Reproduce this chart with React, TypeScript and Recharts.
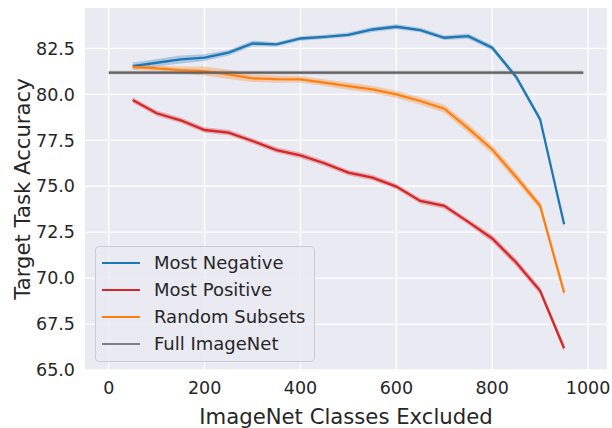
import React from 'react';
import { ComposedChart, Line, Area, XAxis, YAxis, CartesianGrid } from 'recharts';

// ---- data ----
const classesExcluded = [50, 100, 150, 200, 250, 300, 350, 400, 450, 500, 550, 600, 650, 700, 750, 800, 850, 900, 950];
const mostNegative = [81.54, 81.72, 81.9, 82.0, 82.27, 82.77, 82.72, 83.04, 83.13, 83.24, 83.53, 83.68, 83.5, 83.08, 83.17, 82.54, 80.95, 78.64, 72.93];
const mostNegativeCI = [0.2, 0.2, 0.22, 0.18, 0.15, 0.15, 0.12, 0.12, 0.12, 0.12, 0.14, 0.14, 0.12, 0.12, 0.14, 0.15, 0.15, 0.15, 0.15];
const mostPositive = [79.69, 78.97, 78.59, 78.06, 77.92, 77.46, 76.97, 76.68, 76.25, 75.74, 75.47, 74.98, 74.2, 73.93, 73.06, 72.16, 70.85, 69.31, 66.18];
const mostPositiveCI = [0.15, 0.15, 0.15, 0.15, 0.15, 0.15, 0.15, 0.15, 0.15, 0.15, 0.15, 0.15, 0.15, 0.15, 0.15, 0.2, 0.2, 0.2, 0.2];
const randomSubsets = [81.5, 81.41, 81.32, 81.27, 81.09, 80.87, 80.83, 80.82, 80.64, 80.45, 80.27, 80.0, 79.64, 79.22, 78.15, 77.0, 75.5, 73.93, 69.22];
const randomSubsetsCI = [0.15, 0.15, 0.2, 0.25, 0.25, 0.2, 0.2, 0.18, 0.18, 0.2, 0.2, 0.2, 0.2, 0.22, 0.25, 0.25, 0.25, 0.2, 0.2];
const fullImageNetX = [0, 990];
const fullImageNet = [81.18, 81.18];
const fullImageNetCI = [0.1, 0.1];

const xTicks = [0, 200, 400, 600, 800, 1000];
const yTicks = [65, 67.5, 70, 72.5, 75, 77.5, 80, 82.5];

const seriesMeta = [
  { key: 'neg', name: 'Most Negative', color: '#1f77b4' },
  { key: 'pos', name: 'Most Positive', color: '#d62728' },
  { key: 'rand', name: 'Random Subsets', color: '#ff7f0e' },
  { key: 'full', name: 'Full ImageNet', color: '#7f7f7f' },
];

type Row = { x: number; [k: string]: any };

const buildRows = (): Row[] => {
  const m = new Map<number, Row>();
  const get = (x: number) => {
    if (!m.has(x)) m.set(x, { x });
    return m.get(x)!;
  };
  classesExcluded.forEach((x, i) => {
    const r = get(x);
    r.neg = mostNegative[i];
    r.negBand = [mostNegative[i] - mostNegativeCI[i], mostNegative[i] + mostNegativeCI[i]];
    r.pos = mostPositive[i];
    r.posBand = [mostPositive[i] - mostPositiveCI[i], mostPositive[i] + mostPositiveCI[i]];
    r.rand = randomSubsets[i];
    r.randBand = [randomSubsets[i] - randomSubsetsCI[i], randomSubsets[i] + randomSubsetsCI[i]];
  });
  fullImageNetX.forEach((x, i) => {
    const r = get(x);
    r.full = fullImageNet[i];
    r.fullBand = [fullImageNet[i] - fullImageNetCI[i], fullImageNet[i] + fullImageNetCI[i]];
  });
  return Array.from(m.values()).sort((a, b) => a.x - b.x);
};

const rows = buildRows();

const FONT = 'DejaVu Sans';
const TEXT = '#262626';

const LegendBox = () => (
  <div
    style={{
      position: 'absolute',
      left: 95,
      top: 246,
      width: 220,
      height: 116,
      boxSizing: 'border-box',
      border: '1px solid #cccccc',
      borderRadius: 4,
      background: 'rgba(234,234,242,0.8)',
      padding: '2px 0 0 6px',
      fontFamily: FONT,
      fontSize: 18,
      color: TEXT,
    }}
  >
    {seriesMeta.map((s) => (
      <div key={s.key} style={{ display: 'flex', alignItems: 'center', height: 27, whiteSpace: 'nowrap' }}>
        <div style={{ width: 38, minWidth: 38, height: 2, flexShrink: 0, background: s.color, marginRight: 14 }} />
        <span>{s.name}</span>
      </div>
    ))}
  </div>
);

export default function App() {
  return (
    <div style={{ position: 'absolute', left: 0, top: 0, width: 612, height: 428, background: '#fff' }}>
      <ComposedChart width={612} height={428} data={rows} margin={{ top: 8, right: 5, left: 0, bottom: 0 }}>
        <CartesianGrid fill="#EAEAF2" fillOpacity={1} stroke="#ffffff" strokeWidth={1.3} horizontalValues={yTicks} verticalValues={xTicks} />
        <XAxis
          dataKey="x"
          type="number"
          domain={[-49.5, 1039.5]}
          ticks={xTicks}
          allowDataOverflow
          axisLine={false}
          tickLine={false}
          tickSize={0}
          tickMargin={12}
          height={58}
          tick={{ fontFamily: FONT, fontSize: 17.5, fill: TEXT }}
          label={{
            value: 'ImageNet Classes Excluded',
            position: 'insideBottom',
            offset: 4,
            style: { fontFamily: FONT, fontSize: 21.2, fill: TEXT },
          }}
        />
        <YAxis
          type="number"
          domain={[65.0, 84.7]}
          ticks={yTicks}
          allowDataOverflow
          axisLine={false}
          tickLine={false}
          tickSize={0}
          tickMargin={10}
          width={85}
          tickFormatter={(v: number) => v.toFixed(1)}
          tick={{ fontFamily: FONT, fontSize: 17.5, fill: TEXT }}
          label={{
            value: 'Target Task Accuracy',
            angle: -90,
            position: 'insideLeft',
            offset: 22,
            style: { fontFamily: FONT, fontSize: 21.2, fill: TEXT, textAnchor: 'middle' },
          }}
        />
        <Area dataKey="negBand" type="linear" stroke="none" fill="#1f77b4" fillOpacity={0.3} isAnimationActive={false} legendType="none" />
        <Area dataKey="posBand" type="linear" stroke="none" fill="#d62728" fillOpacity={0.3} isAnimationActive={false} legendType="none" />
        <Area dataKey="randBand" type="linear" stroke="none" fill="#ff7f0e" fillOpacity={0.3} isAnimationActive={false} legendType="none" />
        <Area dataKey="fullBand" type="linear" stroke="none" fill="#7f7f7f" fillOpacity={0.35} connectNulls isAnimationActive={false} legendType="none" />
        <Line dataKey="neg" type="linear" name="Most Negative" stroke="#1f77b4" strokeWidth={2.3} dot={false} activeDot={false} isAnimationActive={false} />
        <Line dataKey="pos" type="linear" name="Most Positive" stroke="#d62728" strokeWidth={2.3} dot={false} activeDot={false} isAnimationActive={false} />
        <Line dataKey="rand" type="linear" name="Random Subsets" stroke="#ff7f0e" strokeWidth={2.3} dot={false} activeDot={false} isAnimationActive={false} />
        <Line dataKey="full" type="linear" name="Full ImageNet" stroke="#636363" strokeWidth={2.3} dot={false} activeDot={false} connectNulls isAnimationActive={false} />
      </ComposedChart>
      <LegendBox />
    </div>
  );
}
